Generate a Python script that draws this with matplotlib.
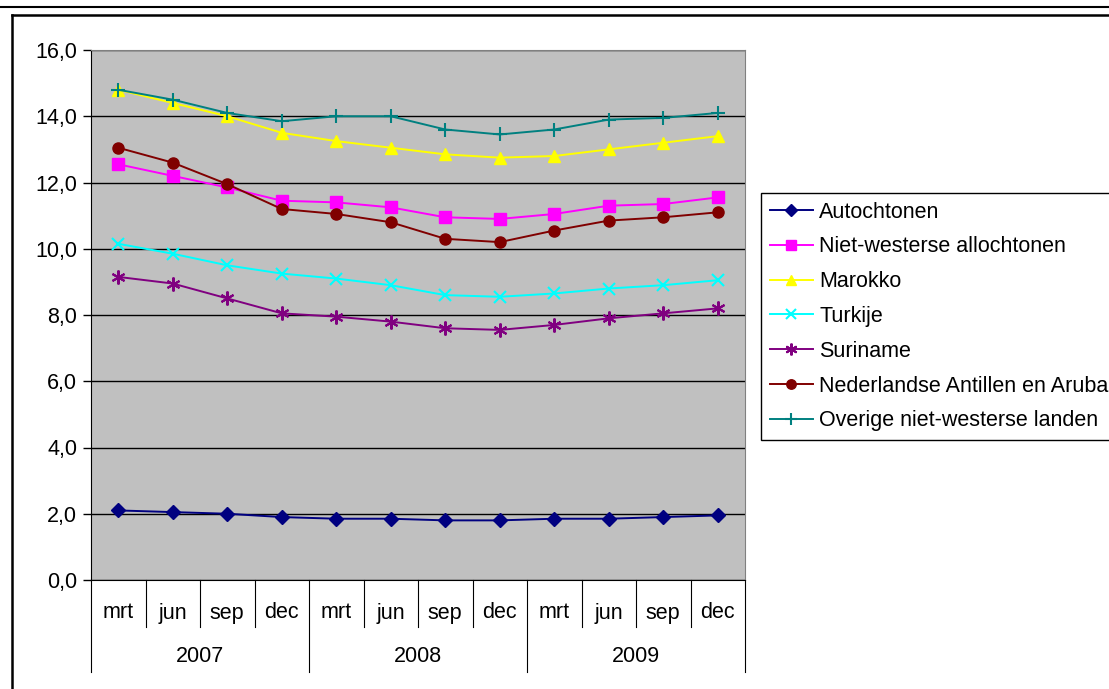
import numpy as np
import matplotlib.pyplot as plt
from matplotlib.lines import Line2D
from matplotlib.transforms import blended_transform_factory

plt.rcParams['font.family'] = ['Liberation Sans', 'DejaVu Sans']

months = ['mrt', 'jun', 'sep', 'dec'] * 3
years = ['2007', '2008', '2009']
yticks = [0, 2, 4, 6, 8, 10, 12, 14, 16]
ytick_labels = ['0,0', '2,0', '4,0', '6,0', '8,0', '10,0', '12,0', '14,0', '16,0']

autochtonen = [2.1, 2.05, 2.0, 1.9, 1.85, 1.85, 1.8, 1.8, 1.85, 1.85, 1.9, 1.95]
niet_westers = [12.55, 12.2, 11.85, 11.45, 11.4, 11.25, 10.95, 10.9, 11.05, 11.3, 11.35, 11.55]
marokko = [14.8, 14.4, 14.0, 13.5, 13.25, 13.05, 12.85, 12.75, 12.8, 13.0, 13.2, 13.4]
turkije = [10.15, 9.85, 9.5, 9.25, 9.1, 8.9, 8.6, 8.55, 8.65, 8.8, 8.9, 9.05]
suriname = [9.15, 8.95, 8.5, 8.05, 7.95, 7.8, 7.6, 7.55, 7.7, 7.9, 8.05, 8.2]
antillen = [13.05, 12.6, 11.95, 11.2, 11.05, 10.8, 10.3, 10.2, 10.55, 10.85, 10.95, 11.1]
overige = [14.8, 14.5, 14.1, 13.85, 14.0, 14.0, 13.6, 13.45, 13.6, 13.9, 13.95, 14.1]

series = [
    ('Autochtonen', autochtonen, '#000080', 'D', 7, 1),
    ('Niet-westerse allochtonen', niet_westers, '#FF00FF', 's', 8, 1),
    ('Marokko', marokko, '#FFFF00', '^', 9, 1),
    ('Turkije', turkije, '#00FFFF', 'x', 9, 1.5),
    ('Suriname', suriname, '#800080', (6, 2, 0), 10, 1.5),
    ('Nederlandse Antillen en Aruba', antillen, '#800000', 'o', 8, 1),
    ('Overige niet-westerse landen', overige, '#008080', '+', 10, 1.5),
]

FS = 15.5

fig = plt.figure(figsize=(11.09, 6.89), dpi=100)
W, H = 1109, 689
ax = fig.add_axes([91 / W, 1 - 580 / H, (745 - 91) / W, (580 - 50) / H])
ax.set_facecolor('#C0C0C0')

x = np.arange(len(months))
for name, vals, col, mk, ms, mew in series:
    ax.plot(x, vals, color=col, lw=1.4, marker=mk, markersize=ms,
            markerfacecolor=col, markeredgecolor=col, markeredgewidth=mew,
            label=name, clip_on=False, zorder=3)

ax.set_xlim(-0.5, len(months) - 0.5)
ax.set_ylim(0, 16)
ax.set_yticks(yticks)
ax.set_yticklabels(ytick_labels, fontsize=FS)
ax.tick_params(axis='y', direction='out', length=6, width=1, pad=4)
ax.set_xticks([])
ax.grid(axis='y', color='#000000', lw=1, zorder=1)
ax.set_axisbelow(True)
for s in ['top', 'right']:
    ax.spines[s].set_color('#808080')
ax.spines['left'].set_color('black')
ax.spines['bottom'].set_color('black')

# category axis with separators
tr = blended_transform_factory(ax.transData, ax.transAxes)
sep_short = -47 / 530
sep_long = -92 / 530
for i in range(len(months) + 1):
    b = i - 0.5
    yb = sep_long if i % 4 == 0 else sep_short
    ax.plot([b, b], [0, yb], color='black', lw=0.8, transform=tr, clip_on=False)
for i, m in enumerate(months):
    ax.text(i, -33 / 530, m, transform=tr, ha='center', va='center', fontsize=FS)
for j, yr in enumerate(years):
    ax.text(j * 4 + 1.5, -77 / 530, yr, transform=tr, ha='center', va='center', fontsize=FS)

# legend
leg = fig.legend(loc='upper left', bbox_to_anchor=(761 / W, 1 - 193 / H),
                 fontsize=FS, frameon=True, fancybox=False, edgecolor='black',
                 framealpha=1, labelspacing=0.64, handlelength=2.0,
                 handletextpad=0.3, borderpad=0.4, borderaxespad=0)
leg.get_frame().set_linewidth(1)
for h in leg.legend_handles:
    h.set_markersize(h.get_markersize() * 0.85)

# chart frame lines
fig.add_artist(Line2D([0, 1], [1 - 7 / H, 1 - 7 / H], color='black', lw=1.5))
fig.add_artist(Line2D([12 / W, 1], [1 - 15 / H, 1 - 15 / H], color='black', lw=1.8))
fig.add_artist(Line2D([12 / W, 12 / W], [0, 1 - 15 / H], color='black', lw=1.8))

fig.savefig('out.png', dpi=100)
